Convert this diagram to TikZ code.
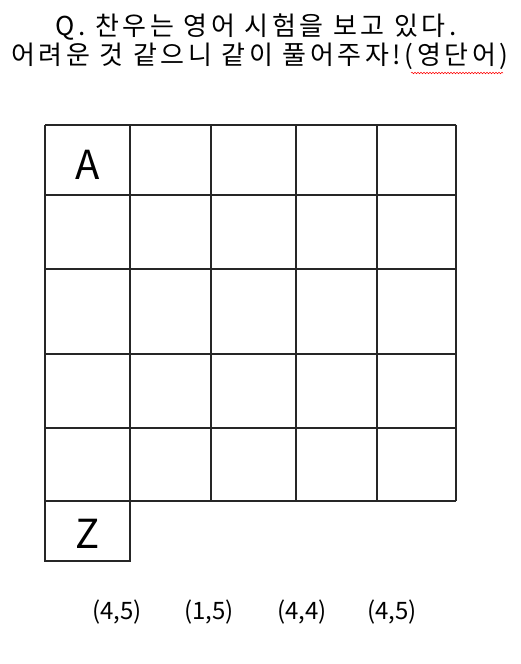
\documentclass[tikz,border=0pt]{standalone}
\usepackage{fontspec}
\setmainfont{Noto Sans CJK KR}
\newfontfamily\titlefont[LetterSpace=14]{Noto Sans CJK KR}
\usetikzlibrary{decorations.pathmorphing}
\tikzset{
  gridline/.style={line width=2pt, black!85},
  title/.style={anchor=base, inner sep=0pt, font=\titlefont\fontsize{26}{30}\selectfont},
  letter/.style={inner sep=0pt, font=\fontsize{40}{44}\selectfont},
  coord/.style={anchor=base, inner sep=0pt, font=\fontsize{24}{26}\selectfont},
}
\begin{document}
\begin{tikzpicture}[x=1pt,y=-1pt]
\useasboundingbox (0,0) rectangle (520,664);
\node[title] (t1) at (256,35) {Q. 찬우는 영어 시험을 보고 있다.};
\node[title] (t2) at (260,64) {어려운 것 같으니 같이 풀어주자!(영단어)};
\draw[red, line width=0.5pt, decorate, decoration={snake, amplitude=0.8pt, segment length=3pt}] (411,73) -- (503,73);
% grid
\foreach \x in {45,129.5,211,296,376.5,456} \draw[gridline] (\x,124.5) -- (\x,501);
\foreach \y in {124.5,195,269,354,427.5,501} \draw[gridline] (45,\y) -- (456,\y);
\draw[gridline] (45,501) -- (45,561) -- (130,561) -- (130,501);
\node[letter] (A) at (88,165) {A};
\node[letter] (Z) at (88,534) {Z};
\node[coord] (c1) at (117,619) {(4,5)};
\node[coord] (c2) at (209,619) {(1,5)};
\node[coord] (c3) at (302,619) {(4,4)};
\node[coord] (c4) at (392,619) {(4,5)};
\end{tikzpicture}
\end{document}
